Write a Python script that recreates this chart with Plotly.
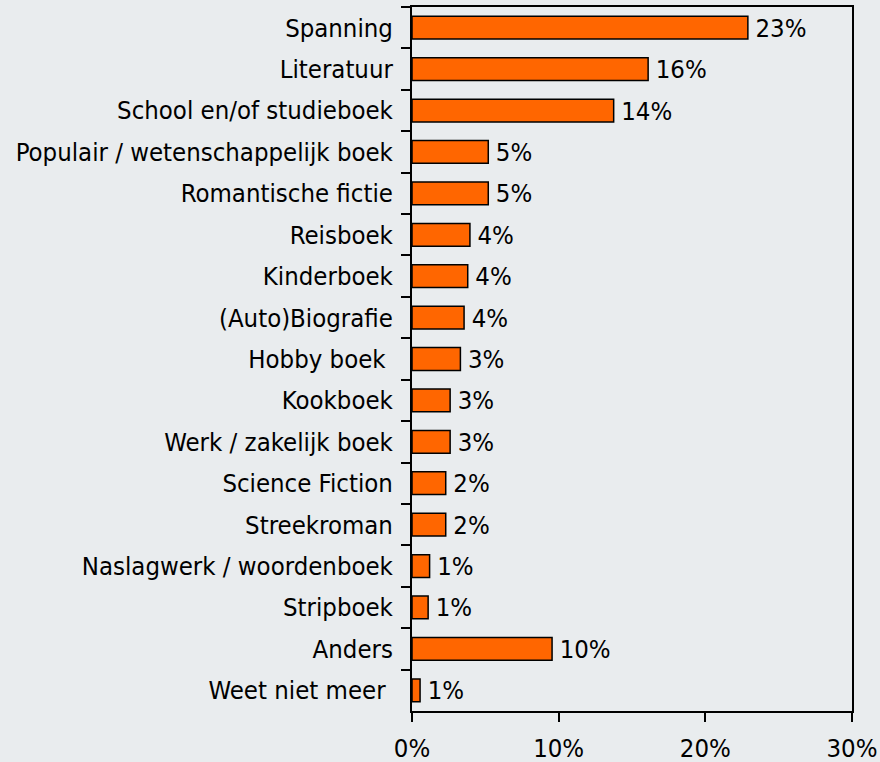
import plotly.graph_objects as go

categories = ["Spanning", "Literatuur", "School en/of studieboek",
              "Populair / wetenschappelijk boek", "Romantische fictie", "Reisboek",
              "Kinderboek", "(Auto)Biografie", "Hobby boek\u00a0", "Kookboek",
              "Werk / zakelijk boek", "Science Fiction", "Streekroman",
              "Naslagwerk / woordenboek", "Stripboek", "Anders", "Weet niet meer\u00a0"]
values = [22.9, 16.1, 13.75, 5.2, 5.2, 3.95, 3.8, 3.55, 3.3, 2.6, 2.6, 2.3, 2.3,
          1.2, 1.1, 9.55, 0.55]
labels = ["23%", "16%", "14%", "5%", "5%", "4%", "4%", "4%", "3%", "3%", "3%",
          "2%", "2%", "1%", "1%", "10%", "1%"]
x_ticks = [0, 10, 20, 30]
x_tick_labels = ["0%", "10%", "20%", "30%"]

bg = "#e9ecee"
font = "DejaVu Sans Condensed, DejaVu Sans, sans-serif"

fig = go.Figure(go.Bar(
    y=categories, x=values, orientation="h",
    text=["\u2009" + t for t in labels], textposition="outside", cliponaxis=False,
    constraintext="none",
    textfont=dict(size=25.5, color="black", family=font),
    marker=dict(color="#ff6600", line=dict(color="black", width=1.5)),
    width=0.55,
))

fig.update_layout(
    width=880, height=762,
    paper_bgcolor=bg, plot_bgcolor=bg,
    margin=dict(l=412, r=28, t=7, b=51, autoexpand=False),
    font=dict(family=font, size=25.5, color="black"),
    showlegend=False,
)
fig.update_xaxes(range=[0, 30], tickvals=x_ticks, ticktext=x_tick_labels,
                 showgrid=False, zeroline=False, showline=True, linecolor="black",
                 linewidth=2, mirror=True, ticks="outside", ticklen=9,
                 tickwidth=2, tickcolor="black", ticklabelstandoff=4,
                 automargin=False)
fig.update_yaxes(autorange="reversed", showgrid=False, zeroline=False,
                 showline=True, linecolor="black", linewidth=2, mirror=True,
                 ticks="outside", ticklen=9, tickwidth=2, tickcolor="black",
                 tickson="boundaries", ticklabelstandoff=12, automargin=False)

fig.write_html(
    "out.html",
    config={"displayModeBar": False},
    post_script="document.body.style.margin='0';document.body.style.padding='0';"
                "document.body.style.background='#e9ecee';",
)
